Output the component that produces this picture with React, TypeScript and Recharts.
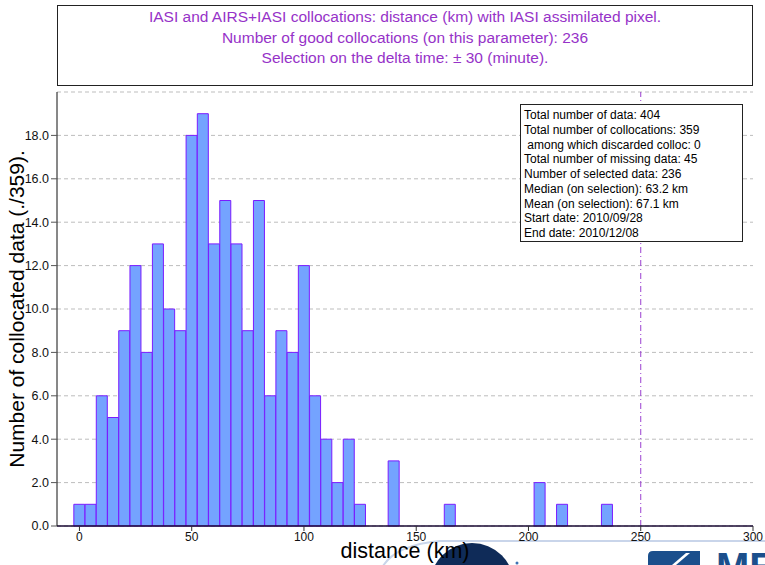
import React from 'react';
import {
  ComposedChart,
  Bar,
  XAxis,
  YAxis,
  CartesianGrid,
  ReferenceLine,
} from 'recharts';

// Histogram bins: centre of each 5 km distance class
const distanceBins = [
  0, 5, 10, 15, 20, 25, 30, 35, 40, 45,
  50, 55, 60, 65, 70, 75, 80, 85, 90, 95,
  100, 105, 110, 115, 120, 125, 130, 135, 140, 145,
  150, 155, 160, 165, 170, 175, 180, 185, 190, 195,
  200, 205, 210, 215, 220, 225, 230, 235,
];

// Number of collocations falling in each bin
const collocCounts = [
  1, 1, 6, 5, 9, 12, 8, 13, 10, 9,
  18, 19, 13, 15, 13, 9, 15, 6, 9, 8,
  12, 6, 4, 2, 4, 1, 0, 0, 3, 0,
  0, 0, 0, 1, 0, 0, 0, 0, 0, 0,
  0, 2, 0, 1, 0, 0, 0, 1,
];

const xTicks = [0, 50, 100, 150, 200, 250, 300];
const yTicks = [0, 2, 4, 6, 8, 10, 12, 14, 16, 18];
const selectionLimit = 250;

const titleLines = [
  'IASI and AIRS+IASI collocations: distance (km) with IASI assimilated pixel.',
  'Number of good collocations (on this parameter): 236',
  'Selection on the delta time: \u00b1 30 (minute).',
];

const statsLines = [
  'Total number of data: 404',
  'Total number of collocations: 359',
  '\u00a0among which discarded colloc: 0',
  'Total number of missing data: 45',
  'Number of selected data: 236',
  'Median (on selection): 63.2 km',
  'Mean (on selection): 67.1 km',
  'Start date: 2010/09/28',
  'End date: 2010/12/08',
];

const data = distanceBins.map((d, i) => ({ distance: d, count: collocCounts[i] }));

const FONT = '"Liberation Sans", Arial, Helvetica, sans-serif';

function Logo() {
  return (
    <svg
      width={765}
      height={565}
      style={{ position: 'absolute', left: 0, top: 0 }}
    >
      <path
        d="M 383 566 Q 396 545 440 541 L 765 541"
        fill="none"
        stroke="#c9d5ea"
        strokeWidth={2}
      />
      <circle cx={472} cy={585} r={42} fill="#0f2b58" />
      <circle cx={517} cy={563} r={1.5} fill="#3d72b4" />
      <path d="M 648 565 L 648 556 Q 648 551 653 551 L 700 551 L 700 565 Z" fill="#1b4f8c" />
      <path d="M 672 565 L 686 553 L 690 553 L 676 565 Z" fill="#ffffff" />
      <text
        x={716}
        y={581}
        fontFamily={FONT}
        fontWeight="bold"
        fontSize={40}
        fill="#1b4f8c"
      >
        ME
      </text>
    </svg>
  );
}

export default function App() {
  return (
    <div
      style={{
        position: 'absolute',
        left: 0,
        top: 0,
        width: 765,
        height: 565,
        background: '#ffffff',
        overflow: 'hidden',
        fontFamily: FONT,
      }}
    >
      <Logo />
      <div style={{ position: 'absolute', left: 0, top: 0 }}>
        <ComposedChart
          width={765}
          height={565}
          data={data}
          margin={{ top: 92, right: 12, bottom: 9, left: 0 }}
          barCategoryGap={0}
          barGap={0}
        >
          <CartesianGrid
            horizontal
            vertical={false}
            stroke="#bdbdbd"
            strokeDasharray="4 3"
          />
          <XAxis
            dataKey="distance"
            type="number"
            domain={[-10, 300]}
            ticks={xTicks}
            allowDataOverflow
            height={30}
            tickSize={5}
            tickMargin={1}
            stroke="#1a0a33"
            strokeWidth={1.5}
            tick={{ fontSize: 12, fill: '#111', fontFamily: FONT }}
            tickLine={{ stroke: '#333', strokeWidth: 1 }}
            label={{
              value: 'distance (km)',
              position: 'insideBottom',
              offset: -2,
              style: { fontSize: 21.5, fill: '#000', fontFamily: FONT },
            }}
          />
          <XAxis
            xAxisId="top"
            orientation="top"
            type="number"
            domain={[0, 1]}
            height={0}
            tick={false}
            tickLine={false}
            stroke="#111"
          />
          <YAxis
            type="number"
            domain={[0, 20]}
            ticks={yTicks}
            width={57}
            tickSize={6}
            tickMargin={2}
            stroke="#111"
            tickFormatter={(v: number) => v.toFixed(1)}
            tick={{ fontSize: 12.5, fill: '#111', fontFamily: FONT }}
            tickLine={{ stroke: '#555' }}
            label={{
              value: 'Number of collocated data (./359).',
              angle: -90,
              position: 'insideLeft',
              offset: 17,
              style: { fontSize: 21, fill: '#000', fontFamily: FONT, textAnchor: 'middle' },
            }}
          />
          <YAxis
            yAxisId="right"
            orientation="right"
            type="number"
            domain={[0, 1]}
            width={0}
            tick={false}
            tickLine={false}
            stroke="#777"
          />
          <Bar
            dataKey="count"
            fill="#74a3ff"
            stroke="#7a1cff"
            strokeWidth={1}
            isAnimationActive={false}
          />
          <ReferenceLine
            x={selectionLimit}
            stroke="#9b3fd0"
            strokeWidth={1}
            strokeDasharray="6 3 1 3"
          />
        </ComposedChart>
      </div>

      {/* heading frame */}
      <div
        style={{
          position: 'absolute',
          left: 57,
          top: 5,
          width: 696,
          height: 81,
          border: '1px solid #222',
          textAlign: 'center',
          color: '#9632c8',
          fontSize: 15.5,
          lineHeight: '20.5px',
          paddingTop: 1,
          boxSizing: 'border-box',
        }}
      >
        {titleLines.map((t) => (
          <div key={t}>{t}</div>
        ))}
      </div>

      {/* summary statistics */}
      <div
        style={{
          position: 'absolute',
          left: 520,
          top: 104,
          width: 223,
          height: 138,
          border: '1px solid #222',
          background: '#ffffff',
          color: '#000',
          fontSize: 12,
          lineHeight: '14.75px',
          paddingLeft: 3,
          paddingTop: 3,
          boxSizing: 'border-box',
          whiteSpace: 'pre',
        }}
      >
        {statsLines.map((t) => (
          <div key={t}>{t}</div>
        ))}
      </div>
    </div>
  );
}
